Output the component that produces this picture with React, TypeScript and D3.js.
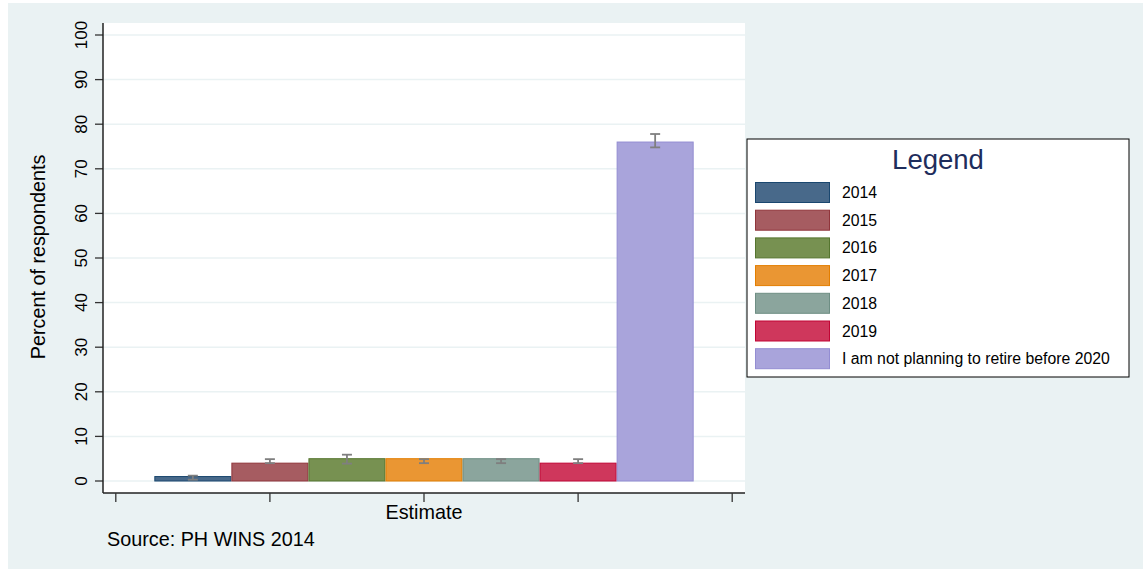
import React from "react";
import * as d3 from "d3";

const categories = ["2014", "2015", "2016", "2017", "2018", "2019", "I am not planning to retire before 2020"];
const estimates = [1, 4, 5, 5, 5, 4, 76];
const ciLow = [0.3, 4.0, 3.9, 4.0, 4.0, 4.0, 74.8];
const ciHigh = [1.2, 4.9, 5.9, 4.9, 4.9, 4.9, 77.8];
const fills = ["#48698a", "#a65c61", "#779151", "#ea9633", "#8ba59d", "#cf375c", "#a9a4db"];
const strokes = ["#1a476f", "#90353b", "#55752f", "#e37e00", "#6e8e84", "#c10534", "#938dd2"];
const yTicks = [0, 10, 20, 30, 40, 50, 60, 70, 80, 90, 100];
const xTicks = [-1, 1, 3, 5, 7];

const FONT = "'Liberation Sans', Arial, Helvetica, sans-serif";

export default function App() {
  const plotLeft = 103, plotRight = 745, plotTop = 23, plotBottom = 493;
  const y = d3.scaleLinear().domain([0, 100]).range([481, 35]);
  const x = d3.scaleLinear().domain([-1, 7]).range([115.8, 732.2]);
  const barW = x(1) - x(0);
  const capW = 10;

  const legX = 747, legY = 139, legW = 382, legH = 238;
  const rowStep = 27.7;

  return (
    <svg width={1143} height={569} style={{ position: "absolute", left: 0, top: 0, fontFamily: FONT }}>
      <rect x={8} y={3} width={1135} height={566} fill="#eaf2f3" />
      <rect x={plotLeft} y={plotTop} width={plotRight - plotLeft} height={plotBottom - plotTop} fill="#ffffff" />
      {yTicks.map((t) => (
        <g key={t}>
          <line x1={plotLeft} x2={plotRight} y1={y(t)} y2={y(t)} stroke="#eaf2f3" strokeWidth={1.5} />
          <line x1={95} x2={plotLeft} y1={y(t)} y2={y(t)} stroke="#333" strokeWidth={1.3} />
          <text
            transform={`translate(87,${y(t)}) rotate(-90)`}
            textAnchor="middle"
            fontSize={17}
            fill="#000"
          >
            {t}
          </text>
        </g>
      ))}
      {estimates.map((v, i) => (
        <rect
          key={categories[i]}
          x={x(i) - barW / 2 + 0.5}
          y={y(v)}
          width={barW - 1}
          height={y(0) - y(v)}
          fill={fills[i]}
          stroke={strokes[i]}
          strokeWidth={1}
        />
      ))}
      {estimates.map((v, i) => (
        <g key={"e" + i} stroke="#7f7f7f" strokeWidth={1.8}>
          <line x1={x(i)} x2={x(i)} y1={y(ciLow[i])} y2={y(ciHigh[i])} />
          <line x1={x(i) - capW / 2} x2={x(i) + capW / 2} y1={y(ciLow[i])} y2={y(ciLow[i])} />
          <line x1={x(i) - capW / 2} x2={x(i) + capW / 2} y1={y(ciHigh[i])} y2={y(ciHigh[i])} />
        </g>
      ))}
      <line x1={plotLeft} x2={plotLeft} y1={plotTop} y2={plotBottom} stroke="#222" strokeWidth={1.5} />
      <line x1={plotLeft} x2={plotRight} y1={plotBottom} y2={plotBottom} stroke="#222" strokeWidth={1.5} />
      {xTicks.map((t) => (
        <line key={t} x1={x(t)} x2={x(t)} y1={plotBottom} y2={502} stroke="#333" strokeWidth={1.3} />
      ))}
      <text x={x(3)} y={519} textAnchor="middle" fontSize={19.8} fill="#000">Estimate</text>
      <text transform={`translate(45,257) rotate(-90)`} textAnchor="middle" fontSize={19.8} fill="#000">
        Percent of respondents
      </text>
      <text x={107} y={546} fontSize={19.8} fill="#000">Source: PH WINS 2014</text>

      <rect x={legX} y={legY} width={legW} height={legH} fill="#fff" stroke="#000" strokeWidth={1} />
      <text x={938} y={169} textAnchor="middle" fontSize={27.5} fill="#1e2d5c">Legend</text>
      {categories.map((c, i) => (
        <g key={"l" + i}>
          <rect x={755.5} y={182.5 + i * rowStep} width={74} height={20} fill={fills[i]} stroke={strokes[i]} strokeWidth={1} />
          <text x={842} y={198 + i * rowStep} fontSize={15.8} fill="#000">{c}</text>
        </g>
      ))}
    </svg>
  );
}
